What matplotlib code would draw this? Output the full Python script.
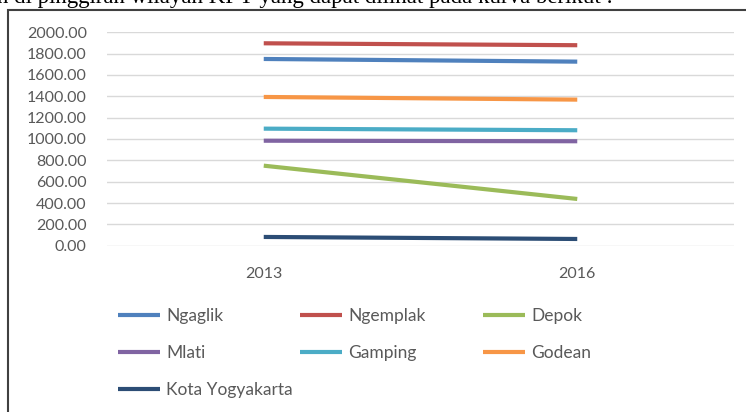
import matplotlib.pyplot as plt
from matplotlib.patches import Rectangle

plt.rcParams['font.family'] = ['Lato', 'DejaVu Sans']

years = ["2013", "2016"]
ngaglik = [1750, 1725]
ngemplak = [1897, 1879]
depok = [750, 438]
mlati = [984, 979]
gamping = [1097, 1082]
godean = [1394, 1369]
kota_yogyakarta = [82, 63]

series = [
    ("Ngaglik", ngaglik, "#4F81BD"),
    ("Ngemplak", ngemplak, "#C0504D"),
    ("Depok", depok, "#9BBB59"),
    ("Mlati", mlati, "#8064A2"),
    ("Gamping", gamping, "#4BACC6"),
    ("Godean", godean, "#F79646"),
    ("Kota Yogyakarta", kota_yogyakarta, "#2C4D75"),
]

W, H = 746, 412
fig = plt.figure(figsize=(W / 100, H / 100), dpi=100)
ax = fig.add_axes([107 / W, 1 - 245.7 / H, (734 - 107) / W, (245.7 - 32.3) / H])

x = range(len(years))
lines = {}
for name, vals, col in series:
    ln, = ax.plot(x, vals, color=col, lw=3, solid_capstyle='butt', label=name)
    lines[name] = ln

ax.set_xlim(-0.5, 1.5)
ax.set_ylim(0, 2000)
ax.set_yticks(range(0, 2001, 200))
ax.set_yticklabels([f"{v:.2f}" for v in range(0, 2001, 200)])
ax.set_xticks(list(x))
ax.set_xticklabels(years)
ax.grid(axis='y', color='#D9D9D9', lw=1)
ax.set_axisbelow(True)
for s in ax.spines.values():
    s.set_visible(False)
ax.tick_params(length=0, colors='#595959', labelsize=11.5)
ax.tick_params(axis='y', pad=14.5)
ax.tick_params(axis='x', pad=15)

# legend, one column at a time like Excel
cols = [["Ngaglik", "Mlati", "Kota Yogyakarta"], ["Ngemplak", "Gamping"], ["Depok", "Godean"]]
col_x = [113, 295, 478]
for names, cx in zip(cols, col_x):
    leg = fig.legend([lines[n] for n in names], names, loc='upper left',
                     bbox_to_anchor=(cx / W, 1 - 303 / H), frameon=False,
                     fontsize=12.5, handlelength=2.4, handletextpad=0.35,
                     labelspacing=1.2, borderaxespad=0, borderpad=0.3)
    for t in leg.get_texts():
        t.set_color('#595959')

# chart frame (cut at right/bottom of the picture)
fig.patches.append(Rectangle((8 / W, -0.05), 1.1, 1 - 10 / H + 0.05,
                             transform=fig.transFigure, fill=False,
                             edgecolor='#404040', lw=1.5))

# clipped line of document text above the chart
fig.text(-0.004, 1 - 3.5 / H, "n di pinggiran wilayah KPY yang dapat dilihat pada kurva berikut :",
         family='Liberation Serif', fontsize=16.5, va='baseline', ha='left')

fig.savefig("out.png", dpi=100)
